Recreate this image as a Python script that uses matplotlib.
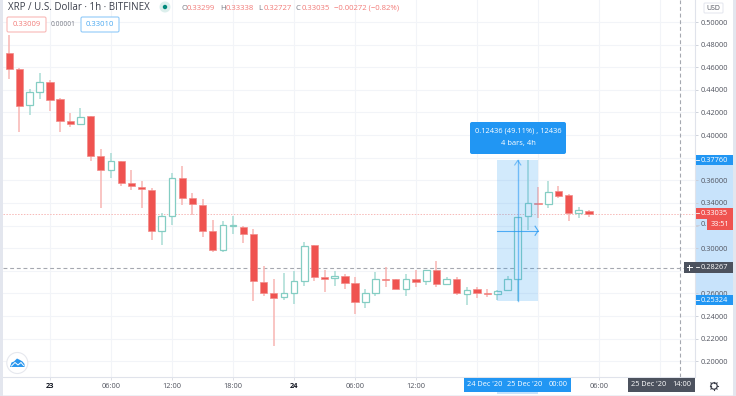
import numpy as np
import matplotlib
matplotlib.use("Agg")
import matplotlib.pyplot as plt
from matplotlib.patches import Rectangle, FancyBboxPatch, Circle, Polygon

plt.rcParams['font.family'] = ['Open Sans', 'DejaVu Sans']

# candles, hourly, first one is 22 Dec 20:00
opens = [.4729, .4588, .4265, .4380, .4468, .4318, .4129, .4100, .4168, .3817,
         .3691, .3767, .3579, .3544, .3517, .3149, .3285, .3620, .3440, .3385,
         .3153, .2988, .3194, .3188, .3129, .2703, .2602, .2567, .2605, .2711,
         .3029, .2749, .2738, .2756, .2688, .2526, .2605, .2729, .2729, .2641,
         .2729, .2711, .2808, .2685, .2732, .2593, .2635, .2608, .2597, .2632,
         .2729, .3282, .3396, .3388, .3506, .3471, .3314, .33299]
highs = [.4885, .4590, .4409, .4547, .4485, .4332, .4194, .4238, .4170, .3879,
         .3846, .3773, .3694, .3597, .3529, .3312, .3665, .3729, .3488, .3435,
         .3246, .3241, .3282, .3199, .3170, .2847, .2729, .2782, .2802, .3056,
         .3031, .2811, .2802, .2776, .2749, .2641, .2791, .2835, .2731, .2776,
         .2811, .2811, .2891, .2749, .2747, .2659, .2659, .2641, .2626, .2758,
         .3276, .3776, .3541, .3597, .3552, .3476, .3367, .33338]
lows = [.4500, .4023, .4177, .4318, .4214, .4023, .4071, .4091, .3773, .3356,
        .3620, .3546, .3517, .3356, .3076, .3026, .3208, .3385, .3297, .3100,
        .2970, .2970, .3129, .3047, .2531, .2575, .2134, .2540, .2511, .2664,
        .2708, .2614, .2670, .2635, .2414, .2470, .2575, .2661, .2639, .2575,
        .2659, .2676, .2655, .2673, .2582, .2496, .2561, .2570, .2540, .2620,
        .2532, .3164, .3264, .3352, .3440, .3244, .3264, .32727]
closes = [.4583, .4259, .4380, .4468, .4314, .4129, .4100, .4164, .3815, .3688,
          .3771, .3579, .3546, .3520, .3153, .3285, .3620, .3440, .3391, .3153,
          .2988, .3206, .3206, .3123, .2708, .2605, .2564, .2605, .2711, .3020,
          .2747, .2726, .2756, .2688, .2523, .2605, .2729, .2717, .2641, .2729,
          .2703, .2808, .2685, .2729, .2602, .2632, .2608, .2591, .2623, .2729,
          .3276, .3400, .3388, .3497, .3458, .3314, .3338, .33035]

price_ticks = [.20, .22, .24, .26, .28, .30, .32, .34, .36, .38, .40, .42, .44, .46, .48, .50]
hidden_prices = [.28, .32, .38]  # these sit under the tags on the scale
time_ticks = [4, 10, 16, 22, 28, 34, 40, 58]
time_labels = ['23', '06:00', '12:00', '18:00', '24', '06:00', '12:00', '06:00']
grid_times = [4, 10, 16, 22, 28, 34, 40, 46, 52, 58, 64]

last_price = .33035
measure_low, measure_high = .25324, .37760
cross_price = .28267
measure_from, measure_to = 48, 52

W, H = 736, 396
RED = '#ef5350'
TEAL = '#84cdc3'
BLUE = '#2196f3'
DARK = '#4c525e'
GREY = '#50535e'
EDGE = '#e0e3eb'
AXIS_SIZE = 5.3

fig = plt.figure(figsize=(W / 100, H / 100), dpi=100)
fig.patch.set_facecolor('white')

# strip behind the scale labels
bg = fig.add_axes([0, 0, 1, 1], zorder=0)
bg.set_xlim(0, W)
bg.set_ylim(H, 0)
bg.axis('off')
bg.add_patch(Rectangle((695.5, 160), 37.5, 140, facecolor='#c8e3fb', lw=0))

# main pane: px 3-695 across, px 0-377 down
ax = fig.add_axes([3 / W, 1 - 377 / H, 692 / W, 377 / H], zorder=1)
ax.set_xlim((3 - 9.3) / 10.17, (695 - 9.3) / 10.17)
ax.set_ylim(.50 - 355 / 1131, .50 + 22 / 1131)

ax.set_yticks(price_ticks)
ax.set_yticklabels(['' if p in hidden_prices else '%.5f' % p for p in price_ticks])
ax.yaxis.tick_right()
ax.tick_params(axis='y', length=2.2, width=.6, color='#c8ccd6', labelsize=AXIS_SIZE, labelcolor=GREY, pad=2.2)
ax.set_xticks(time_ticks)
ax.set_xticklabels(time_labels)
ax.tick_params(axis='x', length=2, width=.6, color='#d8dbe3', labelsize=AXIS_SIZE, labelcolor=GREY, pad=2.5)
for lab, t in zip(ax.get_xticklabels(), time_labels):
    if len(t) == 2:
        lab.set_fontweight('bold')
        lab.set_color('#131722')

for s in ['top', 'left']:
    ax.spines[s].set_visible(False)
for s in ['right', 'bottom']:
    ax.spines[s].set_color(EDGE)
    ax.spines[s].set_linewidth(.8)

for p in price_ticks:
    ax.axhline(p, color='#f2f4f8', lw=.8, zorder=0)
for t in grid_times:
    ax.axvline(t, color='#f2f4f8', lw=.8, zorder=0)

xs = np.arange(len(opens))
o = np.array(opens)
c = np.array(closes)
up = c >= o

ax.vlines(xs[~up], np.array(lows)[~up], np.array(highs)[~up], color='#f8b5b3', lw=1.1, zorder=2)
ax.vlines(xs[up], np.array(lows)[up], np.array(highs)[up], color='#a9dcd5', lw=1.1, zorder=2)
ax.bar(xs[~up], (o - c)[~up], bottom=c[~up], width=.72, color=RED, edgecolor='#f28b88', lw=.5, zorder=3)
ax.bar(xs[up], (c - o)[up], bottom=o[up], width=.66, color='white', edgecolor=TEAL, lw=.9, zorder=3)

# price line and crosshair
ax.axhline(last_price, color='#f7b9b7', lw=.7, ls=(0, (1.5, 1.5)), zorder=1)
ax.axhline(cross_price, color='#a5a8b0', lw=.8, ls=(0, (3.5, 2.5)), zorder=1)
ax.axvline((680.3 - 9.3) / 10.17, color='#a5a8b0', lw=.8, ls=(0, (3.5, 2.5)), zorder=1)

# measure tool
ax.add_patch(Rectangle((measure_from, measure_low), measure_to - measure_from, measure_high - measure_low,
                       facecolor=BLUE, alpha=.2, lw=0, zorder=4))
mid_x = (measure_from + measure_to) / 2
mid_y = (measure_low + measure_high) / 2
ax.plot([mid_x, mid_x], [measure_low, measure_high], color=BLUE, alpha=.55, lw=1, zorder=5)
ax.plot([mid_x - .3, mid_x, mid_x + .3], [measure_high - .004, measure_high, measure_high - .004],
        color=BLUE, alpha=.55, lw=.8, zorder=5)
ax.plot([measure_from, measure_to], [mid_y, mid_y], color=BLUE, alpha=.75, lw=.8, zorder=5)
ax.plot([measure_to - .3, measure_to, measure_to - .3], [mid_y + .004, mid_y, mid_y - .004],
        color=BLUE, alpha=.75, lw=.8, zorder=5)

# everything around the chart, in pixels
ui = fig.add_axes([0, 0, 1, 1], facecolor='none', zorder=2)
ui.set_xlim(0, W)
ui.set_ylim(H, 0)
ui.axis('off')


def box(x0, y0, x1, y1, color, **kw):
    ui.add_patch(Rectangle((x0, y0), x1 - x0, y1 - y0, facecolor=color, lw=0, **kw))


def txt(x, y, s, color=GREY, size=AXIS_SIZE, ha='center', **kw):
    ui.text(x, y, s, color=color, fontsize=size, ha=ha, va='center', **kw)


def outlined(x0, y0, x1, y1, s, color, edge):
    ui.add_patch(FancyBboxPatch((x0 + 1.5, y0 + 1.5), x1 - x0 - 3, y1 - y0 - 3, boxstyle='round,pad=1.5',
                                facecolor='white', edgecolor=edge, lw=.8))
    txt((x0 + x1) / 2, (y0 + y1) / 2, s, color=color, size=5.5)


box(0, 0, 3, H, '#e3e6ee')
box(733, 0, W, H, '#e3e6ee')
box(3, 394.5, 733, H, '#eef0f5')

# header
txt(8, 7.5, 'XRP / U.S. Dollar · 1h · BITFINEX', color='#3a3e4a', size=7, ha='left')
ui.add_patch(Circle((165, 7), 5.5, facecolor='#dcefec', lw=0))
ui.add_patch(Circle((165, 7), 2.2, facecolor='#00897b', lw=0))
for x, lab, val in [(181, 'O', '0.33299'), (220, 'H', '0.33338'), (258, 'L', '0.32727'), (296, 'C', '0.33035')]:
    txt(x, 8, lab, color='#787b86', size=5.6, ha='left')
    txt(x + 5.5, 8, val, color='#f27c79', size=5.6, ha='left')
txt(334.3, 8, '−0.00272 (−0.82%)', color='#f27c79', size=5.6, ha='left')
outlined(7, 17, 46, 32, '0.33009', '#f27c79', '#f9b8b6')
txt(63, 24.5, '0.00001', color='#787b86', size=4.8)
outlined(81, 17, 119, 32, '0.33010', '#4aa8f0', '#90caf9')

# measure label
ui.add_patch(FancyBboxPatch((472, 124), 92, 28, boxstyle='round,pad=2', facecolor=BLUE, lw=0))
txt(518, 131, '0.12436 (49.11%) , 12436', color='white', size=5.4)
txt(518, 144, '4 bars, 4h', color='white', size=5.4)


def price_tag(y, s, color):
    box(695.5, y - 5.3, 733, y + 5.3, color)
    ui.plot([695.5, 699], [y, y], color='white', lw=.6)
    txt(714, y, s, color='white')


txt(701, 224.5, '0.', ha='left')
ui.plot([695.5, 699], [224.5, 224.5], color='#c8ccd6', lw=.6)

price_tag(160, '0.37760', BLUE)
price_tag(300, '0.25324', BLUE)
price_tag(213.2, '0.33035', RED)
box(707, 219.3, 733, 229.5, RED)
txt(720, 224.5, '33:51', color='white')
box(684, 262, 733, 272.7, DARK)
ui.plot([695.5, 699], [267.3, 267.3], color='white', lw=.6)
txt(714, 267.3, '0.28267', color='white')
ui.plot([686.5, 691.5], [267.3, 267.3], color='white', lw=.7)
ui.plot([689, 689], [264.8, 269.8], color='white', lw=.7)

ui.add_patch(FancyBboxPatch((705, 4), 17, 8, boxstyle='round,pad=1', facecolor='white', edgecolor='#e3e6ee', lw=.7))
txt(713.5, 8, 'USD', color=GREY, size=5)

# time scale tags
box(464, 377.6, 571.3, 392.3, BLUE)
txt(485, 385, "24 Dec '20", color='white')
txt(525, 385, "25 Dec '20", color='white')
txt(558, 385, '00:00', color='white')
box(497, 392.3, 538, 394, '#c8e3fb')
box(627.7, 377.6, 695.3, 392.3, DARK)
txt(649, 385, "25 Dec '20", color='white')
txt(682, 385, '14:00', color='white')

# gear
ui.add_patch(Circle((714, 386), 3.2, facecolor='none', edgecolor='#3f434e', lw=.9))
for a in np.arange(0, 360, 45):
    ca, sa = np.cos(np.radians(a)), np.sin(np.radians(a))
    ui.plot([714 + 3.2 * ca, 714 + 4.4 * ca], [386 + 3.2 * sa, 386 + 4.4 * sa], color='#3f434e', lw=.8)

# logo
ui.add_patch(Circle((17.3, 363), 10.5, facecolor='white', edgecolor='#e6e8ee', lw=.8))
ui.add_patch(Polygon([(10, 367), (11.5, 362.5), (14, 361.5), (17, 358.5), (20, 360), (22.5, 361.5), (24.5, 364),
                      (24.5, 367)], facecolor='#2a97ee', lw=0))
ui.plot([11.5, 15, 18, 21, 23.5], [366, 362.5, 365, 362.5, 365.5], color='white', lw=.7)

fig.savefig('out.png', dpi=100)
